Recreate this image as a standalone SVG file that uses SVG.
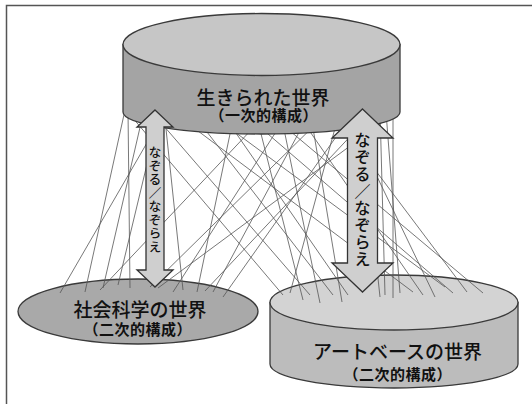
<svg xmlns="http://www.w3.org/2000/svg" width="532" height="404" viewBox="0 0 532 404">
<style>
.bg{fill:#ffffff}
.frame{fill:none;stroke:#555;stroke-width:1.5}
.shape{stroke:#3a3a3a;stroke-width:1.3}
.link{stroke:#555;stroke-width:0.8;fill:none}
.arrow{fill:#cfcfcf;stroke:#333;stroke-width:1.3;stroke-linejoin:miter}
.t{font-family:"Noto Sans CJK JP","Noto Sans CJK SC",sans-serif;fill:#111;text-anchor:middle}
.title{font-size:19px;font-weight:500}
.sub{font-size:15px;font-weight:700}
.vs{font-size:12.5px;font-weight:500}
.vl{font-size:16px;font-weight:500}
</style>
<rect class="bg" x="0" y="0" width="532" height="404"/>
<rect class="frame" x="6.5" y="5.5" width="600" height="500"/>

<g id="node-social">
<ellipse class="shape" cx="138" cy="311.5" rx="120" ry="32.5" fill="#a9a9a9"/>
<text class="t title" x="140" y="317">社会科学の世界</text>
<text class="t sub" x="91 106.5 122 137.5 153 168.5 184" y="335">（二次的構成）</text>
</g>

<g id="node-artbase">
<path class="shape" fill="#bcbcbc" d="M270,302.5 V364 A124,24 0 0 0 518,364 V302.5 Z"/>
<ellipse class="shape" cx="394" cy="302.5" rx="124" ry="27.5" fill="#d3d3d3"/>
<text class="t title" x="397.5" y="359">アートベースの世界</text>
<text class="t sub" x="351 366.5 382 397.5 413 428.5 444" y="380">（二次的構成）</text>
</g>

<g id="connectors">
<line class="link" x1="126" y1="110" x2="283" y2="295"/>
<line class="link" x1="150" y1="110" x2="310" y2="295"/>
<line class="link" x1="170" y1="110" x2="413" y2="292"/>
<line class="link" x1="190" y1="110" x2="333" y2="295"/>
<line class="link" x1="205" y1="110" x2="445" y2="287"/>
<line class="link" x1="220" y1="110" x2="348" y2="295"/>
<line class="link" x1="240" y1="110" x2="453" y2="293"/>
<line class="link" x1="255" y1="110" x2="303" y2="300"/>
<line class="link" x1="265" y1="110" x2="483" y2="293"/>
<line class="link" x1="280" y1="110" x2="320" y2="303"/>
<line class="link" x1="295" y1="110" x2="423" y2="295"/>
<line class="link" x1="310" y1="110" x2="342" y2="302"/>
<line class="link" x1="330" y1="110" x2="467" y2="292"/>
<line class="link" x1="340" y1="110" x2="290" y2="293"/>
<line class="link" x1="345" y1="110" x2="435" y2="297"/>
<line class="link" x1="380" y1="110" x2="385" y2="295"/>
<line class="link" x1="393" y1="110" x2="393" y2="298"/>
<line class="link" x1="386" y1="112" x2="400" y2="293"/>
<line class="link" x1="360" y1="110" x2="380" y2="297"/>
<line class="link" x1="166" y1="110" x2="60" y2="293"/>
<line class="link" x1="144" y1="110" x2="103" y2="288"/>
<line class="link" x1="160" y1="110" x2="118" y2="285"/>
<line class="link" x1="128" y1="110" x2="130" y2="288"/>
<line class="link" x1="125" y1="110" x2="85" y2="292"/>
<line class="link" x1="396" y1="112" x2="158" y2="288"/>
<line class="link" x1="290" y1="110" x2="173" y2="292"/>
<line class="link" x1="164" y1="110" x2="183" y2="290"/>
<line class="link" x1="235" y1="110" x2="197" y2="292"/>
<line class="link" x1="311" y1="110" x2="213" y2="292"/>
<line class="link" x1="355" y1="110" x2="223" y2="297"/>
<line class="link" x1="375" y1="110" x2="205" y2="291"/>
<line class="link" x1="270" y1="110" x2="100" y2="290"/>
<line class="link" x1="330" y1="110" x2="150" y2="287"/>
</g>

<g id="node-lived">
<path class="shape" fill="#a4a4a4" d="M123,44.5 V112 A138.5,22 0 0 0 400,112 V44.5 Z"/>
<ellipse class="shape" cx="261.5" cy="44.5" rx="138.5" ry="31" fill="#c6c6c6"/>
<text class="t title" x="263" y="105">生きられた世界</text>
<text class="t sub" x="217 232.5 248 263.5 279 294.5 310" y="121">（一次的構成）</text>
</g>

<g id="arrow-left">
<path class="arrow" d="M155,110 L173,127 L164,127 L164,270 L173,270 L155,287 L137,270 L146,270 L146,127 L137,127 Z"/>
<text class="t vs" x="155"><tspan x="155" y="157">な</tspan><tspan x="155" y="170.5">ぞ</tspan><tspan x="155" y="184">る</tspan><tspan x="155" y="197.5">／</tspan><tspan x="155" y="211">な</tspan><tspan x="155" y="224.5">ぞ</tspan><tspan x="155" y="238">ら</tspan><tspan x="155" y="251.5">え</tspan></text>
</g>

<g id="arrow-right">
<path class="arrow" d="M362.5,109 L393,138 L377.5,138 L377.5,263 L393,263 L362.5,292 L332,263 L347.5,263 L347.5,138 L332,138 Z"/>
<text class="t vl" x="362.5"><tspan x="362.5" y="146">な</tspan><tspan x="362.5" y="163">ぞ</tspan><tspan x="362.5" y="180">る</tspan><tspan x="362.5" y="197">／</tspan><tspan x="362.5" y="214">な</tspan><tspan x="362.5" y="231">ぞ</tspan><tspan x="362.5" y="248">ら</tspan><tspan x="362.5" y="265">え</tspan></text>
</g>
</svg>
